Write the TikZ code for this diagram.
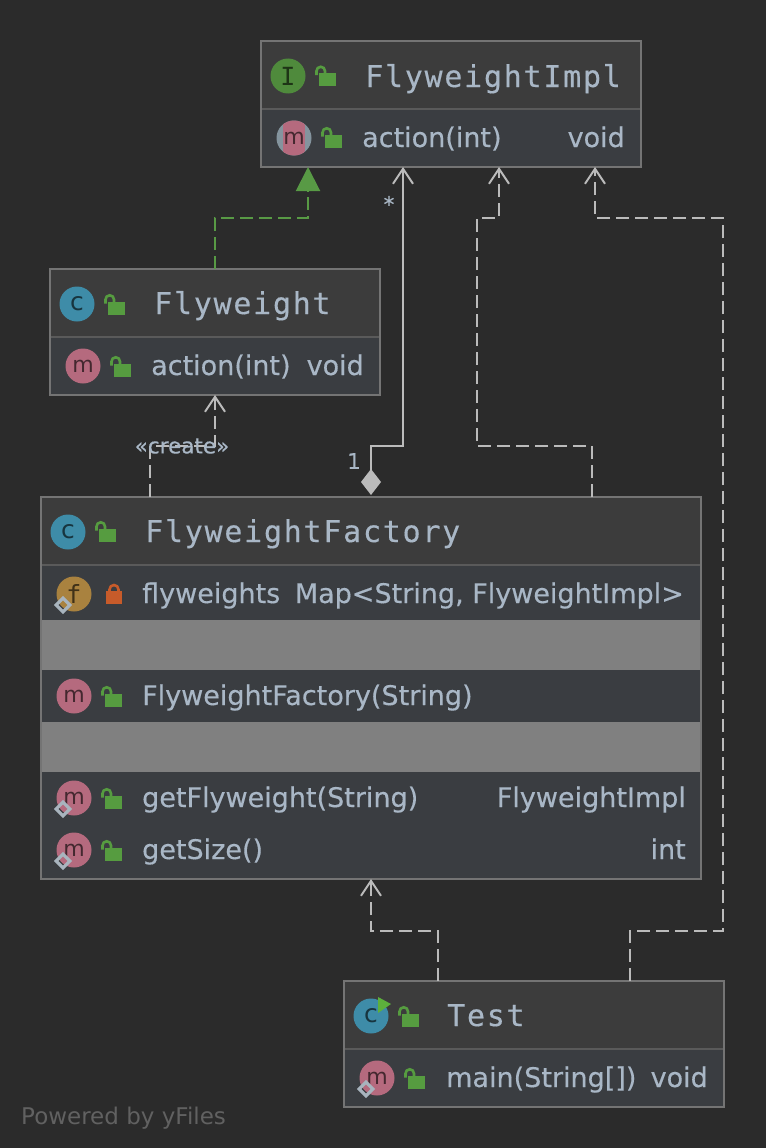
\documentclass[tikz,border=0pt]{standalone}
\usepackage{fontspec}
\usepackage{xcolor}
\setmainfont[FakeBold=0.35]{DejaVu Sans}
\newfontfamily\titlefont[LetterSpace=5.8,FakeBold=0.35]{DejaVu Sans Mono}
\newfontfamily\iconfont{DejaVu Sans Mono}
\newfontfamily\plainfont{DejaVu Sans}
\usetikzlibrary{shapes,positioning,arrows.meta}

\definecolor{canvascol}{HTML}{2B2B2B}
\definecolor{headcol}{HTML}{3C3C3C}
\definecolor{rowcol}{HTML}{3A3D41}
\definecolor{bandcol}{HTML}{808080}
\definecolor{framecol}{HTML}{747474}
\definecolor{dividercol}{HTML}{5A5A5A}
\definecolor{textcol}{HTML}{A9B7C6}
\definecolor{edgecol}{HTML}{BBBBBB}
\definecolor{greenedge}{HTML}{589A45}
\definecolor{lockgreen}{HTML}{569C40}
\definecolor{lockred}{HTML}{C75B2A}
\definecolor{classcol}{HTML}{3E8CA8}
\definecolor{methodcol}{HTML}{B56A7E}
\definecolor{fieldcol}{HTML}{A9823F}
\definecolor{ifacecol}{HTML}{4F8A3C}
\definecolor{abstractcol}{HTML}{84949E}
\definecolor{markcol}{HTML}{A8B4BE}
\definecolor{runcol}{HTML}{5DB03C}
\definecolor{yfilescol}{HTML}{616161}

\tikzset{
    boxfill/.style={anchor=north west, inner sep=0pt, outer sep=0pt, minimum width=#1},
    frame/.style={draw=framecol, line width=2pt},
    divider/.style={draw=dividercol, line width=2pt},
    icon/.style={circle, inner sep=0pt, minimum size=35pt, text=black, text opacity=0.62, font=\plainfont\fontsize{25}{25}\selectfont},
    monoicon/.style={icon, font=\iconfont\fontsize{25}{25}\selectfont},
    methodicon/.style={icon, font=\plainfont\fontsize{22}{22}\selectfont},
    staticmark/.style={diamond, draw=markcol, line width=3.2pt, inner sep=0pt, minimum size=15pt},
    title/.style={anchor=base west, inner sep=0pt, text=textcol, font=\titlefont\fontsize{30}{30}\selectfont},
    member/.style={anchor=base west, inner sep=0pt, text=textcol, font=\fontsize{27}{27}\selectfont},
    rtype/.style={member, anchor=base east},
    edgelabel/.style={inner sep=0pt, text=textcol, font=\fontsize{21.5}{21.5}\selectfont},
    dep/.style={draw=edgecol, line width=2pt, dash pattern=on 13pt off 6pt, -{Straight Barb[length=15pt,width=20pt]}},
    compo/.style={draw=edgecol, line width=2pt, shorten <=2pt, {Diamond[length=26pt,width=20pt]}-{Straight Barb[length=15pt,width=20pt]}},
    realize/.style={draw=greenedge, line width=2pt, dash pattern=on 13pt off 6pt, -{Triangle[length=24pt,width=24pt]}},
    lockopen/.pic={
        \fill [lockgreen] (-8.5pt,-6.5pt) rectangle (8.5pt,6.5pt);
        \draw [lockgreen, line width=2.6pt] (-10.5pt,4.5pt) -- (-10.5pt,8.5pt) arc [start angle=180, end angle=0, radius=4.25pt] -- (-2pt,6pt);
    },
    lockshut/.pic={
        \fill [lockred] (-8pt,-6.5pt) rectangle (8pt,6.5pt);
        \draw [lockred, line width=2.6pt] (-4.5pt,6pt) -- (-4.5pt,8pt) arc [start angle=180, end angle=0, radius=4.5pt] -- (4.5pt,6pt);
    },
}

\begin{document}
\begin{tikzpicture}[x=1pt, y=-1pt]
    \useasboundingbox (0,0) rectangle (766,1148);
    \fill [canvascol] (0,0) rectangle (766,1148);

    % class boxes
    \node [boxfill=380pt, fill=rowcol, minimum height=126pt] (impl) at (261,41) {};
    \node [boxfill=380pt, fill=headcol, minimum height=68pt] (implhead) at (261,41) {};
    \node [boxfill=330pt, fill=rowcol, minimum height=126pt] (fw) at (50,269) {};
    \node [boxfill=330pt, fill=headcol, minimum height=68pt] (fwhead) at (50,269) {};
    \node [boxfill=660pt, fill=rowcol, minimum height=382pt] (factory) at (41,497) {};
    \node [boxfill=660pt, fill=headcol, minimum height=68pt] (factoryhead) at (41,497) {};
    \node [boxfill=660pt, fill=bandcol, minimum height=50pt] (bandone) at (41,620) {};
    \node [boxfill=660pt, fill=bandcol, minimum height=50pt] (bandtwo) at (41,722) {};
    \node [boxfill=380pt, fill=rowcol, minimum height=126pt] (test) at (344,981) {};
    \node [boxfill=380pt, fill=headcol, minimum height=68pt] (testhead) at (344,981) {};

    \draw [divider] (implhead.south west) -- (implhead.south east);
    \draw [divider] (fwhead.south west) -- (fwhead.south east);
    \draw [divider] (factoryhead.south west) -- (factoryhead.south east);
    \draw [divider] (testhead.south west) -- (testhead.south east);

    \draw [frame] (impl.north west) rectangle (impl.south east);
    \draw [frame] (fw.north west) rectangle (fw.south east);
    \draw [frame] (factory.north west) rectangle (factory.south east);
    \draw [frame] (test.north west) rectangle (test.south east);

    % connectors
    \draw [realize] (fw.north) -- ++(0,-51) -| ([xshift=-143pt]impl.south);
    \draw [compo] (factory.north) -- ++(0,-51) -| ([xshift=-48pt]impl.south);
    \draw [dep] ([xshift=221pt]factory.north) |- ++(-115,-51) -- ++(0,-228) -| ([xshift=48pt]impl.south);
    \draw [dep] ([xshift=96pt]test.north) |- ++(93,-50) -- ++(0,-713) -| ([xshift=144pt]impl.south);
    \draw [dep] ([xshift=-96pt]test.north) -- ++(0,-50) -| (factory.south);
    \draw [dep] ([xshift=-221pt]factory.north) -- ++(0,-51) -| (fw.south);

    \node [edgelabel] (many) at (389,204) {*};
    \node [edgelabel] (one) at (354,461) {1};
    \node [edgelabel] (create) at (182,446) {«create»};

    % icons
    \node [monoicon, fill=ifacecol] (impliface) at (288,76) {I};
    \node [methodicon, fill=abstractcol, path picture={\fill [methodcol] ([xshift=-11pt,yshift=-18pt]path picture bounding box.center) rectangle ++(22pt,36pt);}] (implaction) at (294,138) {m};
    \node [icon, fill=classcol] (fwclass) at (77,304) {c};
    \node [methodicon, fill=methodcol] (fwaction) at (83,366) {m};
    \node [icon, fill=classcol] (factoryclass) at (68,532) {c};
    \node [monoicon, fill=fieldcol] (factoryfield) at (74,594) {f};
    \node [methodicon, fill=methodcol] (factoryctor) at (74,696) {m};
    \node [methodicon, fill=methodcol] (factoryget) at (74,798) {m};
    \node [methodicon, fill=methodcol] (factorysize) at (74,850) {m};
    \node [icon, fill=classcol] (testclass) at (371,1016) {c};
    \node [methodicon, fill=methodcol] (testmain) at (377,1078) {m};
    \fill [runcol] (378,997) -- (391,1004) -- (378,1013) -- cycle;

    \pic at ([xshift=39pt,yshift=-3.5pt]impliface.center) {lockopen};
    \pic at ([xshift=39pt,yshift=-3pt]implaction.center) {lockopen};
    \pic at ([xshift=39pt,yshift=-4pt]fwclass.center) {lockopen};
    \pic at ([xshift=39pt,yshift=-4pt]fwaction.center) {lockopen};
    \pic at ([xshift=39pt,yshift=-3pt]factoryclass.center) {lockopen};
    \pic at ([xshift=40pt,yshift=-3.5pt]factoryfield.center) {lockshut};
    \pic at ([xshift=39pt,yshift=-4pt]factoryctor.center) {lockopen};
    \pic at ([xshift=39pt,yshift=-4pt]factoryget.center) {lockopen};
    \pic at ([xshift=39pt,yshift=-4pt]factorysize.center) {lockopen};
    \pic at ([xshift=39pt,yshift=-4pt]testclass.center) {lockopen};
    \pic at ([xshift=39pt,yshift=-4pt]testmain.center) {lockopen};

    \node [staticmark] (fieldmark) at ([xshift=-11pt,yshift=-11pt]factoryfield.center) {};
    \node [staticmark] (getmark) at ([xshift=-11pt,yshift=-11pt]factoryget.center) {};
    \node [staticmark] (sizemark) at ([xshift=-11pt,yshift=-11pt]factorysize.center) {};
    \node [staticmark] (mainmark) at ([xshift=-11pt,yshift=-11pt]testmain.center) {};

    % texts
    \node [title] (implname) at (365,87) {FlyweightImpl};
    \node [member] (implsig) at (362,147) {action(int)};
    \node [rtype] (impltype) at (625,147) {void};
    \node [title] (fwname) at (154,314) {Flyweight};
    \node [member] (fwsig) at (151,375) {action(int)};
    \node [rtype] (fwtype) at (364,375) {void};
    \node [title] (factoryname) at (145,542) {FlyweightFactory};
    \node [member] (fieldsig) at (142,603) {flyweights};
    \node [rtype] (fieldtype) at (684,603) {Map<String, FlyweightImpl>};
    \node [member] (ctorsig) at (142,705) {FlyweightFactory(String)};
    \node [member] (getsig) at (142,807) {getFlyweight(String)};
    \node [rtype] (gettype) at (686,807) {FlyweightImpl};
    \node [member] (sizesig) at (142,859) {getSize()};
    \node [rtype] (sizetype) at (686,859) {int};
    \node [title] (testname) at (447,1026) {Test};
    \node [member] (mainsig) at (446,1087) {main(String[])};
    \node [rtype] (maintype) at (708,1087) {void};
    \node [anchor=base west, inner sep=0pt, text=yfilescol, font=\plainfont\fontsize{23}{23}\selectfont] (powered) at (21,1124) {Powered by yFiles};
\end{tikzpicture}
\end{document}
